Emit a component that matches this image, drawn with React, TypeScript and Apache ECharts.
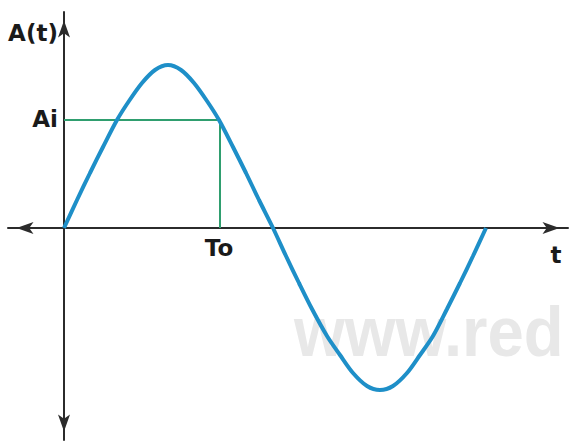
import React, { useEffect, useRef } from "react";
import * as echarts from "echarts";

// t (time units) and A(t) values
const waveT = [0, 13, 26, 39, 53, 65, 78, 91, 104, 117, 130, 143, 155, 169, 182, 195, 209, 222, 235, 248, 263, 276, 289, 303, 316, 329, 343, 356, 369, 383, 396, 409, 422];
const waveA = [0, 28, 55, 81, 108, 127, 145, 158, 163, 158, 145, 127, 108, 81, 55, 28, 0, -28, -55, -81, -108, -127, -145, -158, -162, -158, -145, -127, -108, -81, -55, -28, 0];

// reference point (To, Ai)
const refT = 156;
const refA = 108;

const labels = ["A(t)", "Ai", "To", "t"];
const watermark = "www.red";

export default function App() {
  const ref = useRef<HTMLDivElement>(null);
  useEffect(() => {
    if (!ref.current) return;
    const chart = echarts.init(ref.current, null, { renderer: "svg" });
    const axisCommon = {
      type: "value" as const,
      axisLine: {
        show: true,
        onZero: true,
        symbol: ["arrow", "arrow"],
        symbolSize: [9, 17],
        symbolOffset: [8.5, -8.5],
        lineStyle: { color: "#2b2b2b", width: 2 },
      },
      axisTick: { show: false },
      axisLabel: { show: false },
      splitLine: { show: false },
    };
    const font = 'bold 23px "DejaVu Sans"';
    chart.setOption({
      animation: false,
      backgroundColor: "#ffffff",
      grid: { left: 8, right: 1, top: 12, bottom: 4, containLabel: false },
      xAxis: { ...axisCommon, min: -56, max: 504 },
      yAxis: { ...axisCommon, min: -212, max: 216 },
      graphic: [
        {
          type: "text",
          x: 294,
          y: 331,
          scaleX: 0.92,
          z: 0,
          style: {
            text: watermark,
            font: 'bold 71px "Liberation Sans"',
            fill: "#e8e8e8",
            textAlign: "left",
            textVerticalAlign: "middle",
          },
        },
        { type: "text", x: 33, y: 33, z: 10, style: { text: labels[0], font, fill: "#1a1a1a", textAlign: "center", textVerticalAlign: "middle" } },
        { type: "text", x: 45, y: 119, z: 10, style: { text: labels[1], font, fill: "#1a1a1a", textAlign: "center", textVerticalAlign: "middle" } },
        { type: "text", x: 219, y: 248, z: 10, style: { text: labels[2], font, fill: "#1a1a1a", textAlign: "center", textVerticalAlign: "middle" } },
        { type: "text", x: 556, y: 255, z: 10, style: { text: labels[3], font, fill: "#1a1a1a", textAlign: "center", textVerticalAlign: "middle" } },
      ],
      series: [
        {
          type: "line",
          data: [
            [0, refA],
            [refT, refA],
            [refT, 0],
          ],
          showSymbol: false,
          symbol: "none",
          lineStyle: { color: "#2f9e6f", width: 2 },
          z: 3,
        },
        {
          type: "line",
          data: waveT.map((t, i) => [t, waveA[i]]),
          smooth: 0.3,
          showSymbol: false,
          symbol: "none",
          lineStyle: { color: "#1e8fc8", width: 4 },
          z: 4,
        },
      ],
    });
    return () => chart.dispose();
  }, []);
  return (
    <div
      ref={ref}
      style={{ position: "fixed", left: 0, top: 0, width: 569, height: 444 }}
    />
  );
}
